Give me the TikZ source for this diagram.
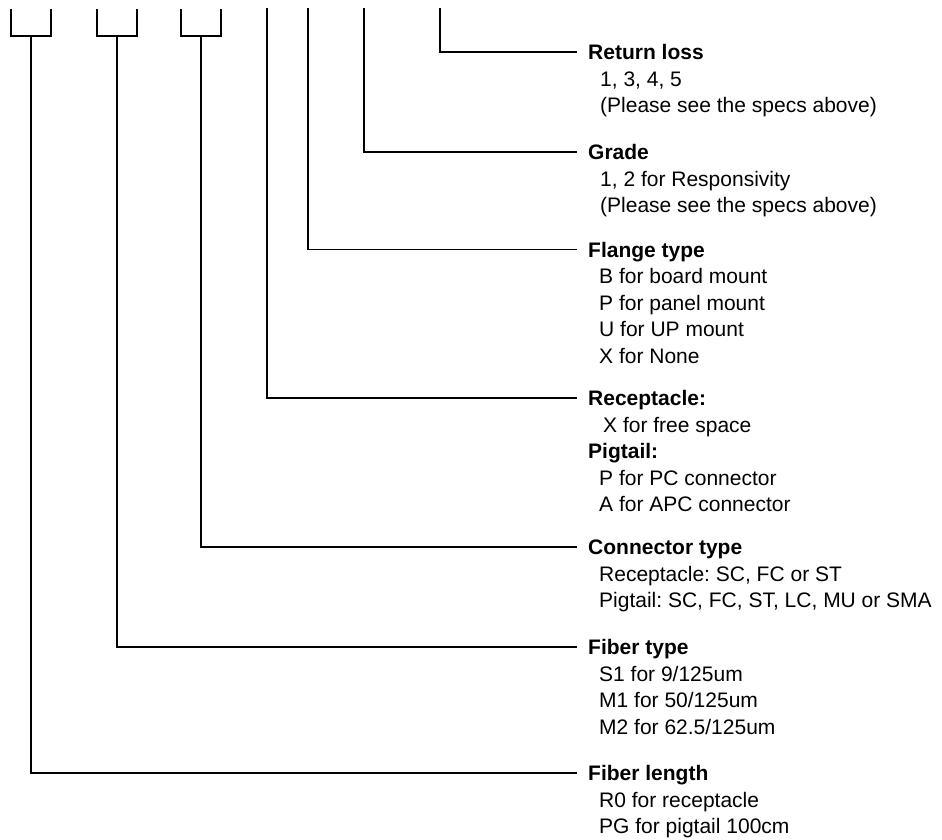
\documentclass[tikz,border=0pt]{standalone}
\usepackage{fontspec}
\setmainfont{Liberation Sans}
\usetikzlibrary{calc}

\begin{document}
\begin{tikzpicture}[
    x=1pt, y=-1pt,
    font=\fontsize{21}{26.5}\selectfont\frenchspacing,
    lead/.style={line width=1.5pt},
    hdr/.style={font=\fontsize{21}{26.5}\selectfont\bfseries, anchor=west, inner xsep=11pt, inner ysep=0pt, text height=15pt, text depth=0pt},
    vals/.style={anchor=base west, align=left, inner sep=0pt}
]
\useasboundingbox (0,0) rectangle (942,839);

% --------------------------------------------------------------------------
% Code fields
% --------------------------------------------------------------------------
\draw[lead] (11,9) |- (51,36) -- (51,9);
\draw[lead] (97,9) |- (137,36) -- (137,9);
\draw[lead] (181,9) |- (221,36) -- (221,9);

\coordinate (tlen) at (31,36);
\coordinate (tfib) at (117,36);
\coordinate (tcon) at (201,36);
\coordinate (trec) at (267,7.5);
\coordinate (tflg) at (308,7.5);
\coordinate (tgrd) at (364,7.5);
\coordinate (trl) at (440,7.5);

% --------------------------------------------------------------------------
% Field descriptions (values anchored at the base of their last line)
% --------------------------------------------------------------------------
\node[hdr] (rloss) at (577,52) {Return loss};
\node[vals] (rlossv) at ($(rloss.base west)+(23,53)$) {1, 3, 4, 5\\(Please see the specs above)};

\node[hdr] (grade) at (577,152) {Grade};
\node[vals] (gradev) at ($(grade.base west)+(23,53)$) {1, 2 for Responsivity\\(Please see the specs above)};

\node[hdr] (flange) at (577,249.5) {Flange type};
\node[vals] (flangev) at ($(flange.base west)+(22,106)$) {B for board mount\\P for panel mount\\U for UP mount\\X for None};

\node[hdr] (recep) at (577,398) {Receptacle:};
\node[vals] (recepv) at ($(recep.base west)+(26,26.5)$) {X for free space};
\node[hdr] (pigt) at ($(recep.west)+(0,53)$) {Pigtail:};
\node[vals] (pigtv) at ($(pigt.base west)+(22,53)$) {P for PC connector\\A for APC connector};

\node[hdr] (conn) at (577,547) {Connector type};
\node[vals] (connv) at ($(conn.base west)+(22,53)$) {Receptacle: SC, FC or ST\\Pigtail: SC, FC, ST, LC, MU or SMA};

\node[hdr] (fibt) at (577,647) {Fiber type};
\node[vals] (fibtv) at ($(fibt.base west)+(22,79.5)$) {S1 for 9/125um\\M1 for 50/125um\\M2 for 62.5/125um};

\node[hdr] (fibl) at (577,773) {Fiber length};
\node[vals] (fiblv) at ($(fibl.base west)+(22,53)$) {R0 for receptacle\\PG for pigtail 100cm};

% Leads
\draw[lead] (trl) |- (rloss.west);
\draw[lead] (tgrd) |- (grade.west);
\draw[lead] (tflg) |- (flange.west);
\draw[lead] (trec) |- (recep.west);
\draw[lead] (tcon) |- (conn.west);
\draw[lead] (tfib) |- (fibt.west);
\draw[lead] (tlen) |- (fibl.west);

\end{tikzpicture}
\end{document}
